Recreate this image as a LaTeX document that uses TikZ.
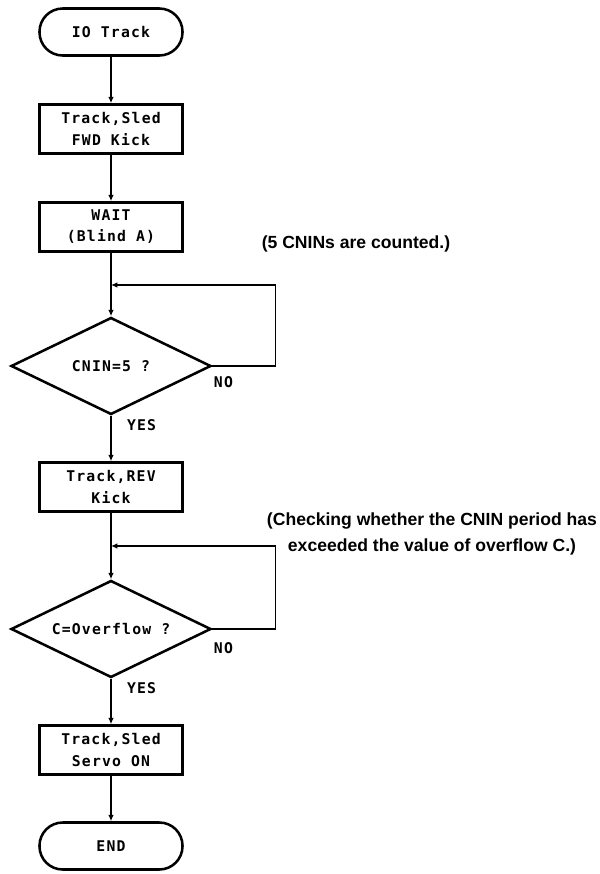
\documentclass[tikz,border=0pt]{standalone}
\usepackage{fontspec}
\setmainfont{Liberation Sans}
\newfontfamily\rotulo[LetterSpace=8]{DejaVu Sans Mono}
\usetikzlibrary{arrows.meta, positioning, shapes.geometric}
\colorlet{colLinea}{black}
\colorlet{colTexto}{black}
\tikzset{
  cajaBase/.style={
    draw=colLinea, line width=1.8pt,
    minimum height=1.225cm, minimum width=3.575cm,
    align=center, font=\rotulo\bfseries\fontsize{10.5}{15}\selectfont, text=colTexto,
    inner sep=2pt
  },
  cajaProceso/.style={cajaBase},
  cajaTerminal/.style={cajaBase, minimum height=1.175cm, rounded corners=5.8mm},
  cajaDecision/.style={cajaBase, diamond, aspect=2,
    minimum width=5cm, minimum height=2.425cm, inner sep=0pt},
  flecha/.style={-{Latex[length=1.6mm, width=1.4mm]}, line width=1pt, colLinea},
  etiquetaRama/.style={font=\rotulo\bfseries\fontsize{10.5}{12}\selectfont, text=colTexto, inner sep=1pt},
  notaLateral/.style={font=\bfseries\fontsize{12.5}{18}\selectfont, text=colTexto, align=center},
}
\begin{document}
\begin{tikzpicture}
  \useasboundingbox (0,0) rectangle (14.975,-21.85);
  % flujo principal
  \node[cajaTerminal] (inicio) at (2.775,-0.8) {IO Track};
  \node[cajaProceso] (avance) at (2.775,-3.225) {Track,Sled\\FWD Kick};
  \node[cajaProceso] (espera) at (2.775,-5.675) {WAIT\\(Blind A)};
  \node[cajaDecision] (cnin) at (2.775,-9.15) {CNIN=5 ?};
  \node[cajaProceso] (reversa) at (2.775,-12.175) {Track,REV\\Kick};
  \node[cajaDecision] (desborde) at (2.775,-15.725) {C=Overflow ?};
  \node[cajaProceso] (servo) at (2.775,-18.75) {Track,Sled\\Servo ON};
  \node[cajaTerminal] (fin) at (2.775,-21.15) {END};
  % puntos de retorno de los lazos
  \coordinate (retornoA) at (2.775,-7.125);
  \coordinate (retornoB) at (2.775,-13.65);
  \draw[flecha] (inicio) -- (avance);
  \draw[flecha] (avance) -- (espera);
  \draw[flecha] (espera) -- (cnin);
  \draw[flecha] (cnin) -- node[etiquetaRama, pos=0.2, right=0.35cm] {YES} (reversa);
  \draw[flecha] (reversa) -- (desborde);
  \draw[flecha] (desborde) -- node[etiquetaRama, pos=0.2, right=0.35cm] {YES} (servo);
  \draw[flecha] (servo) -- (fin);
  % lazos NO
  \draw[flecha] (cnin.east) -- ++(1.575,0) |- (retornoA);
  \draw[flecha] (desborde.east) -- ++(1.575,0) |- (retornoB);
  \node[etiquetaRama, below right=0.22cm and 0cm of cnin.east] (noA) {NO};
  \node[etiquetaRama, below right=0.3cm and 0cm of desborde.east] (noB) {NO};
  % notas
  \node[notaLateral] (notaA) at (8.9,-6.1) {(5 CNINs are counted.)};
  \node[notaLateral] (notaB) at (10.8,-13.35) {(Checking whether the CNIN period has\\exceeded the value of overflow C.)};
\end{tikzpicture}
\end{document}
